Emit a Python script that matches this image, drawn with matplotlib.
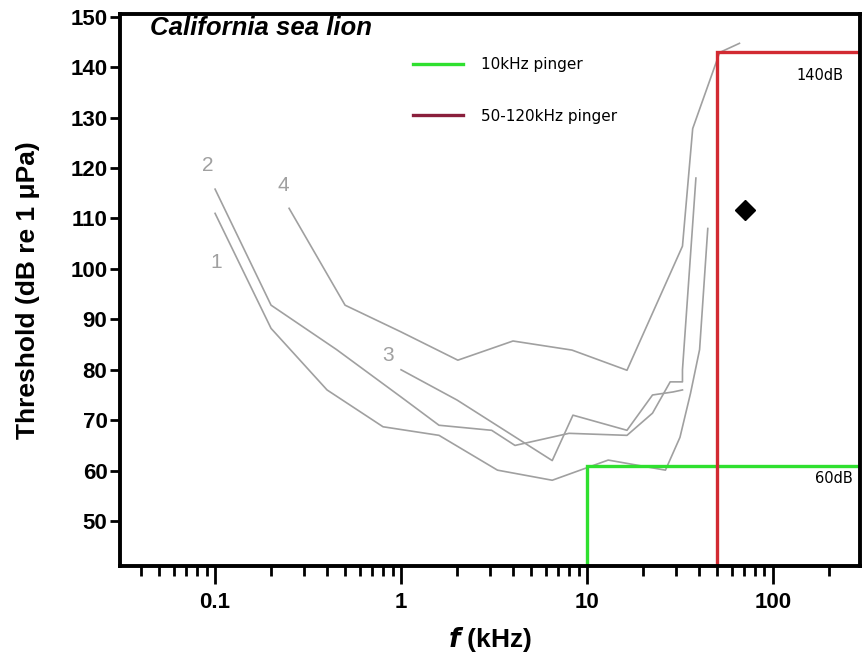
import matplotlib
matplotlib.use('Agg')
import matplotlib.pyplot as plt
from matplotlib.lines import Line2D
from matplotlib.ticker import LogLocator, FixedLocator, NullFormatter

# audiogram curves (kHz, dB re 1 uPa)
c1_f = [0.1, 0.2, 0.4, 0.8, 1.6, 3.3, 6.5, 13, 26.4, 31.6, 36, 40.3, 44.6]
c1_db = [111, 88.2, 76, 68.7, 67, 60.1, 58.1, 62.1, 60.1, 66.6, 75.3, 84, 108]

c2_f = [0.1, 0.2, 0.45, 1, 1.6, 3.07, 4.1, 8, 16.4, 22.5, 28, 32.6, 32.6, 38.5]
c2_db = [115.8, 92.8, 84, 74.6, 69, 68, 65, 67.4, 67, 71.4, 77.6, 77.6, 80, 118]

c3_f = [1, 2, 6.5, 8.4, 16.4, 22.5, 29, 32.6]
c3_db = [80, 74, 62, 71, 68, 75, 75.6, 76]

c4_f = [0.25, 0.5, 1, 2.02, 4, 8.3, 16.4, 32.6, 37, 51.7, 66]
c4_db = [112, 92.8, 87.5, 81.9, 85.7, 83.9, 79.9, 104.5, 127.8, 142.9, 144.7]

curve_labels = ['1', '2', '3', '4']
label_f = [0.102, 0.0917, 0.85, 0.233]
label_db = [101.3, 120.5, 82.9, 116.5]

# pinger boxes
ping10_f = [10, 10, 1000]
ping10_db = [0, 61, 61]
ping50_f = [50, 50, 1000]
ping50_db = [0, 143, 143]

marker_f = [71]
marker_db = [111.7]

fig = plt.figure(figsize=(8.63, 6.61), dpi=100)
ax = fig.add_axes([0.139, 0.1437, 0.857, 0.835])

grey = '#a0a0a0'
for f, db in [(c1_f, c1_db), (c2_f, c2_db), (c3_f, c3_db), (c4_f, c4_db)]:
    ax.plot(f, db, color=grey, lw=1.2)

for t, f, db in zip(curve_labels, label_f, label_db):
    ax.text(f, db, t, color=grey, fontsize=15, ha='center', va='center',
            family='Liberation Sans')

green = '#2fe02f'
red = '#d22a32'
ax.plot(ping10_f, ping10_db, color=green, lw=2.4, solid_joinstyle='miter')
ax.plot(ping50_f, ping50_db, color=red, lw=2.4, solid_joinstyle='miter')
ax.plot(marker_f, marker_db, 'D', color='black', ms=10.5)

ax.text(179, 138.3, '140dB', fontsize=10.5, ha='center', va='center')
ax.text(212, 58.5, '60dB', fontsize=10.5, ha='center', va='center')

ax.text(0.0448, 147.8, 'California sea lion', fontsize=18.5, fontweight='bold',
        fontstyle='italic', family='Liberation Sans', va='center')

handles = [Line2D([], [], color=green, lw=2.4),
           Line2D([], [], color='#8a1f3c', lw=2.4)]
ax.legend(handles, ['10kHz pinger', '50-120kHz pinger'], frameon=False,
          loc='upper left', bbox_to_anchor=(0.377, 0.947), fontsize=11,
          handlelength=3.3, handletextpad=1.15, labelspacing=2.4)

ax.set_xscale('log')
ax.set_xlim(0.0308, 292)
ax.set_ylim(41.1, 150.5)

ax.xaxis.set_major_locator(FixedLocator([0.1, 1, 10, 100]))
ax.xaxis.set_minor_locator(LogLocator(base=10, subs=range(2, 10)))
ax.xaxis.set_minor_formatter(NullFormatter())
ax.set_xticklabels(['0.1', '1', '10', '100'])
ax.set_yticks(range(50, 151, 10))

for s in ax.spines.values():
    s.set_linewidth(2.8)
ax.tick_params(axis='x', which='major', length=13, width=2, pad=6)
ax.tick_params(axis='x', which='minor', length=7, width=2)
ax.tick_params(axis='y', which='major', length=7, width=2, pad=2)
ax.tick_params(axis='y', which='minor', left=False)

for lab in ax.get_xticklabels() + ax.get_yticklabels():
    lab.set_fontfamily('Liberation Sans')
    lab.set_fontweight('bold')
    lab.set_fontsize(16)

ax.set_ylabel('Threshold (dB re 1 \u03bcPa)', fontsize=19, fontweight='bold',
              family='Liberation Sans', labelpad=22)
ax.set_xlabel('$\\mathbfit{f}$ (kHz)', fontsize=19, fontweight='bold',
              family='Liberation Sans', labelpad=8)

plt.savefig('out.png', dpi=100)
